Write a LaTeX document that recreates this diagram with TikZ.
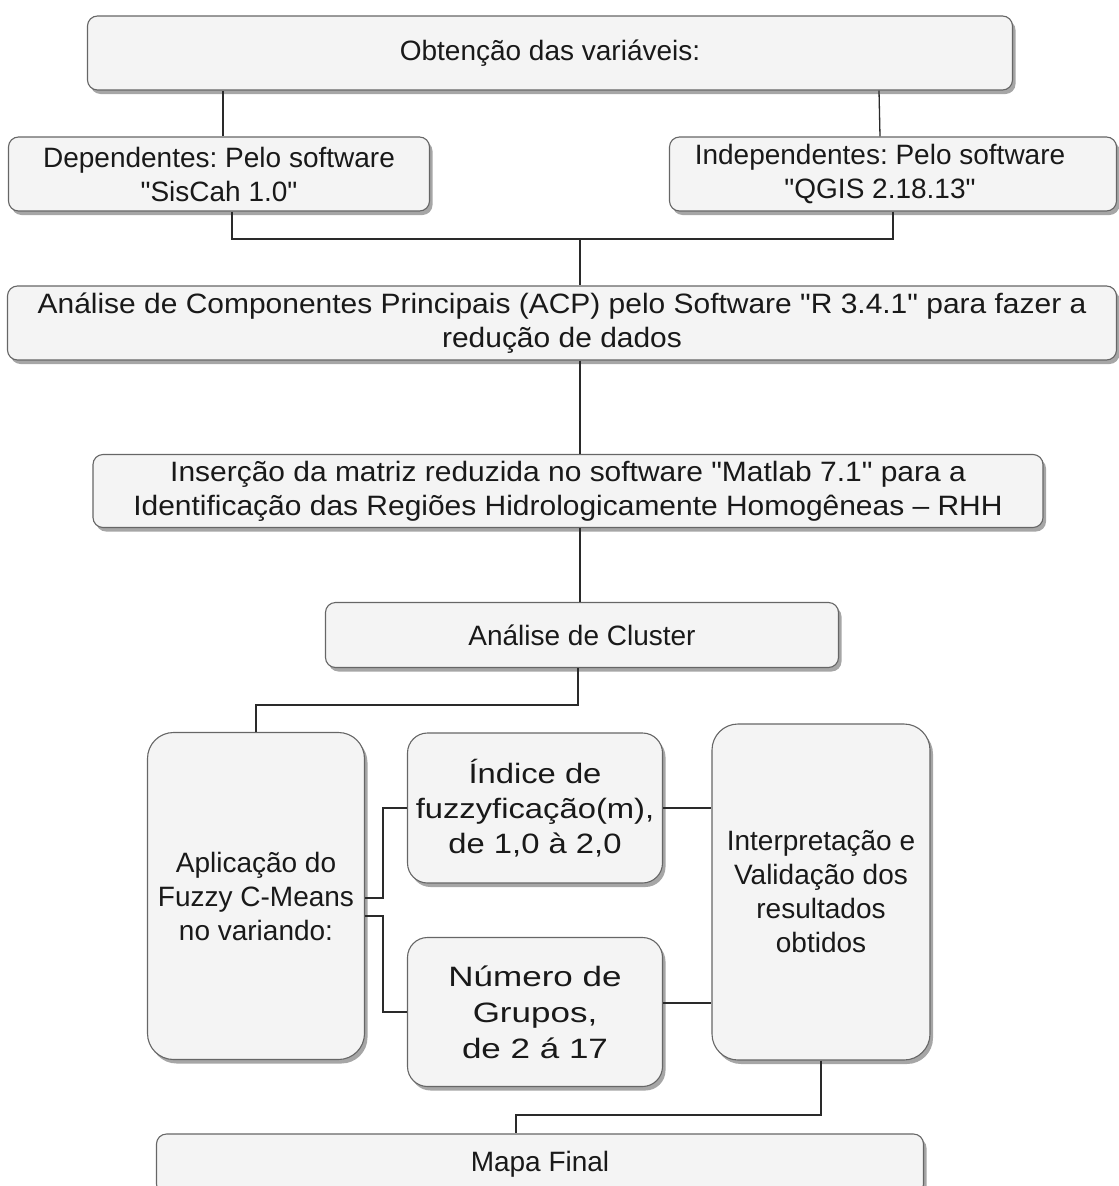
\documentclass[tikz,border=0pt]{standalone}
\usepackage{fontspec}
\setmainfont{Liberation Sans}[Ligatures=TeXOff]
\newfontfamily\poucolargo{Liberation Sans}[Ligatures=TeXOff, FakeStretch=1.07]
\newfontfamily\maislargo{Liberation Sans}[Ligatures=TeXOff, FakeStretch=1.17]
\newfontfamily\muitolargo{Liberation Sans}[Ligatures=TeXOff, FakeStretch=1.25]
\usepackage{tikz}
\usetikzlibrary{calc}
\usetikzlibrary{shadows}

\definecolor{boxfill}{HTML}{F4F4F4}
\definecolor{boxline}{HTML}{666666}
\definecolor{wire}{HTML}{2A2A2A}

\tikzset{
  etapa/.style={draw=boxline, fill=boxfill, line width=1.1pt, rounded corners=10pt,
    align=center, inner sep=0pt, text=black!90,
    font=\fontsize{28}{34}\selectfont,
    drop shadow={shadow xshift=3pt, shadow yshift=-4pt, fill=black!35, opacity=1}},
  alta/.style={etapa, rounded corners=26pt},
  liga/.style={draw=wire, line width=1.3pt}
}

\begin{document}
\frenchspacing
\begin{tikzpicture}[x=1pt, y=-1pt]

\useasboundingbox (0,0) rectangle (1119,1186);

	% caixas
	\node[etapa, minimum width=925, minimum height=74] (obt) at (550, 53) {Obtenção das variáveis:};
	\node[etapa, minimum width=421, minimum height=74] (dep) at (219, 174) {Dependentes: Pelo software\\"SisCah 1.0"};
	\node[etapa, minimum width=447, minimum height=74] (ind) at (893, 174) {};
	\node[align=center, font=\fontsize{28}{34}\selectfont, text=black!90] (indtxt) at (880, 174) {Independentes: Pelo software\\"QGIS 2.18.13"};
	\node[etapa, minimum width=1109, minimum height=74, font=\fontsize{28}{34}\poucolargo] (acp) at (562, 323) {Análise de Componentes Principais (ACP) pelo Software "R 3.4.1" para fazer a\\redução de dados};
	\node[etapa, minimum width=950, minimum height=73, font=\fontsize{28}{34}\poucolargo] (ins) at (568, 491) {Inserção da matriz reduzida no software "Matlab 7.1" para a\\Identificação das Regiões Hidrologicamente Homogêneas – RHH};
	\node[etapa, minimum width=513, minimum height=65] (clu) at (582, 635) {Análise de Cluster};
	\node[alta, minimum width=217, minimum height=327] (apl) at (256, 896) {Aplicação do\\Fuzzy C-Means\\no variando:};
	\node[alta, rounded corners=20pt, minimum width=255, minimum height=150, font=\fontsize{28}{35}\maislargo] (idx) at (535, 808) {Índice de\\fuzzyficação(m),\\de 1,0 à 2,0};
	\node[alta, rounded corners=20pt, minimum width=255, minimum height=149, font=\fontsize{28}{36}\muitolargo] (num) at (535, 1012) {Número de\\Grupos,\\de 2 á 17};
	\node[alta, minimum width=218, minimum height=336] (int) at (821, 892) {Interpretação e\\Validação dos\\resultados\\obtidos};
	\node[etapa, minimum width=767, minimum height=60] (map) at (540, 1164) {Mapa Final};

	% pontos de junção
	\coordinate (j1) at (580, 239);
	\coordinate (j2) at (578, 705);
	\coordinate (j3) at (516, 1115);

	% ligações
	\draw[liga] ([xshift=4pt]dep.north) -- ([xshift=4pt]dep.north |- obt.south);
	\draw[liga] ([xshift=-13pt]ind.north) -- ([xshift=-14pt]ind.north |- obt.south);
	\draw[liga] ([xshift=13pt]dep.south) |- (j1);
	\draw[liga] (ind.south) |- (j1);
	\draw[liga] (j1) -- (j1 |- acp.north);
	\draw[liga] (acp.south -| j1) -- (ins.north -| j1);
	\draw[liga] (ins.south -| j1) -- (clu.north -| j1);
	\draw[liga] (clu.south -| j2) -- (j2) -| (apl.north);
	\draw[liga] ([yshift=-2pt]apl.east) -- ++(18,0) |- (idx.west);
	\draw[liga] ([yshift=-20pt]apl.east) -- ++(18,0) |- (num.west);
	\draw[liga] (idx.east) -- (idx.east -| int.west);
	\draw[liga] ([yshift=9pt]num.east) -- ([yshift=9pt]num.east -| int.west);
	\draw[liga] (int.south) |- (j3) -- (j3 |- map.north);

\end{tikzpicture}
\end{document}
